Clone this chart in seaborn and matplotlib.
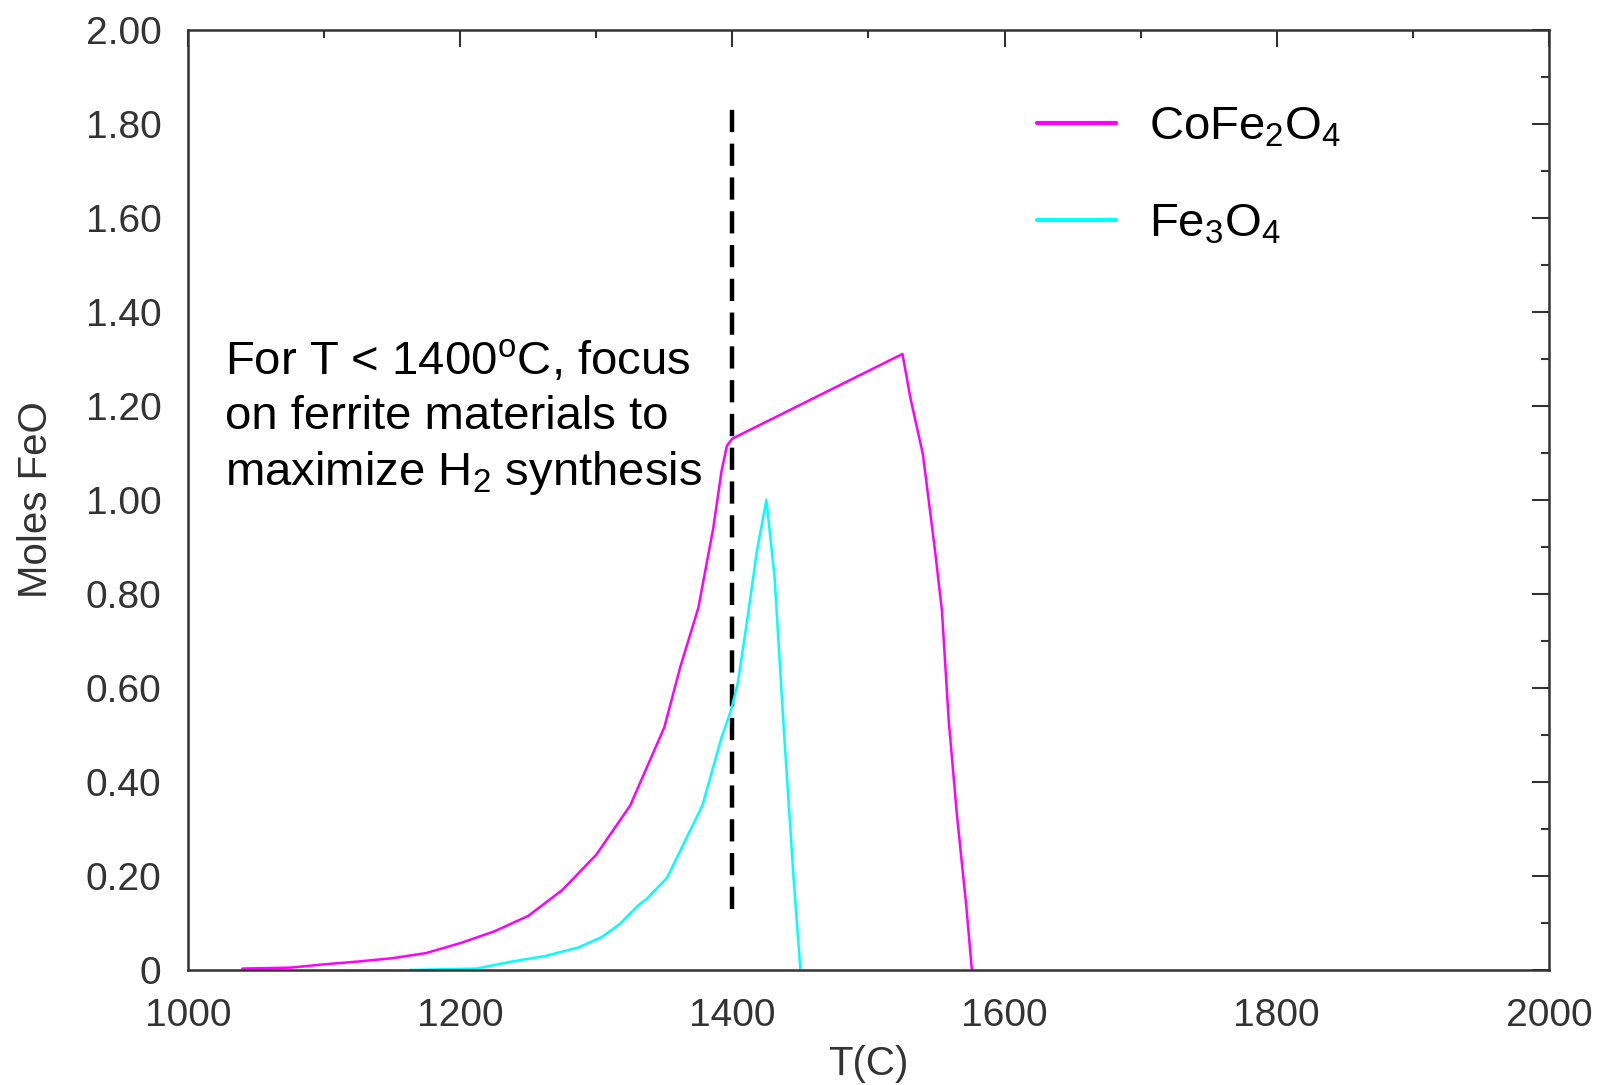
import matplotlib
matplotlib.use("Agg")
import matplotlib.pyplot as plt
import matplotlib.ticker as mticker
import numpy as np
import pandas as pd
import seaborn as sns

# Moles of FeO formed vs temperature for two ferrites
t_cofe2o4 = [1040, 1075, 1100, 1125, 1150, 1175, 1200, 1225, 1250, 1275, 1300,
             1325, 1350, 1362, 1375, 1386, 1392, 1396, 1400, 1525, 1531, 1540,
             1549, 1554, 1559, 1565, 1572, 1576]
moles_cofe2o4 = [0.003, 0.005, 0.012, 0.018, 0.025, 0.036, 0.057, 0.082, 0.115,
                 0.17, 0.245, 0.35, 0.516, 0.647, 0.77, 0.94, 1.06, 1.115, 1.13,
                 1.31, 1.214, 1.097, 0.89, 0.764, 0.53, 0.33, 0.133, 0.0]

t_fe3o4 = [1163, 1212, 1238, 1263, 1287, 1304, 1317, 1331, 1337, 1352, 1378,
           1392, 1399, 1404, 1411, 1418, 1425, 1431, 1438, 1445, 1450]
moles_fe3o4 = [0.0, 0.003, 0.018, 0.03, 0.048, 0.07, 0.097, 0.138, 0.151, 0.196,
               0.35, 0.494, 0.552, 0.61, 0.746, 0.89, 1.0, 0.836, 0.503, 0.196, 0.0]

series_labels = ["CoFe$_2$O$_4$", "Fe$_3$O$_4$"]
series_colors = ["#FF00FF", "#00FFFF"]

x_ticks = [1000, 1200, 1400, 1600, 1800, 2000]
y_ticks = [0, 0.2, 0.4, 0.6, 0.8, 1.0, 1.2, 1.4, 1.6, 1.8, 2.0]
y_tick_labels = ["0", "0.20", "0.40", "0.60", "0.80", "1.00", "1.20", "1.40",
                 "1.60", "1.80", "2.00"]

cutoff_t = 1400
cutoff_span = (0.13, 1.84)
note = ("For T < 1400$^{\\mathrm{o}}$C, focus\n"
        "on ferrite materials to\n"
        "maximize H$_2$ synthesis")

df = pd.concat([
    pd.DataFrame({"T": t_cofe2o4, "moles": moles_cofe2o4, "oxide": series_labels[0]}),
    pd.DataFrame({"T": t_fe3o4, "moles": moles_fe3o4, "oxide": series_labels[1]}),
], ignore_index=True)

sns.set_theme(style="white")
plt.rcParams["font.family"] = ["Liberation Sans", "DejaVu Sans"]
plt.rcParams["mathtext.fontset"] = "custom"
plt.rcParams["mathtext.rm"] = "Liberation Sans"
plt.rcParams["mathtext.it"] = "Liberation Sans:italic"

fig = plt.figure(figsize=(15.98, 10.85), dpi=100)
ax = fig.add_axes([0.1176, 0.106, 0.8517, 0.8668])

sns.lineplot(data=df, x="T", y="moles", hue="oxide", palette=series_colors,
             hue_order=series_labels, sort=False, estimator=None,
             linewidth=1.8, ax=ax)

ax.vlines(cutoff_t, cutoff_span[0], cutoff_span[1], colors="black",
          linestyles=(0, (5, 2.6)), linewidth=3.2, zorder=1)

ax.text(1027, 1.343, note, fontsize=34, color="black", va="top", ha="left",
        linespacing=1.3)

ax.set_xlim(1000, 2000)
ax.set_ylim(0, 2.0)
ax.set_xticks(x_ticks)
ax.set_yticks(y_ticks)
ax.set_yticklabels(y_tick_labels)
ax.xaxis.set_minor_locator(mticker.MultipleLocator(100))
ax.yaxis.set_minor_locator(mticker.MultipleLocator(0.1))

tick_color = "#333333"
for side in ax.spines.values():
    side.set_color("#333333")
    side.set_linewidth(1.8)
ax.tick_params(which="both", direction="in", top=True, right=True,
               color="#333333", width=1.5)
ax.tick_params(which="major", length=12)
ax.tick_params(which="minor", length=6)
ax.tick_params(axis="x", which="major", pad=20, labelsize=28, labelcolor=tick_color)
ax.tick_params(axis="y", which="major", pad=19, labelsize=28, labelcolor=tick_color)

ax.set_xlabel("T(C)", fontsize=29, color=tick_color, labelpad=8)
ax.set_ylabel("Moles FeO", fontsize=29, color=tick_color, labelpad=22)

handles, labels = ax.get_legend_handles_labels()
for h in handles:
    h.set_linewidth(3)
leg = ax.legend(handles, labels, loc="upper left", bbox_to_anchor=(0.624, 0.919),
                frameon=False, fontsize=34, handlelength=1.66, handletextpad=0.71,
                labelspacing=1.11, borderaxespad=0, borderpad=0)
for txt in leg.get_texts():
    txt.set_color("black")

fig.savefig("out.png", dpi=100)
